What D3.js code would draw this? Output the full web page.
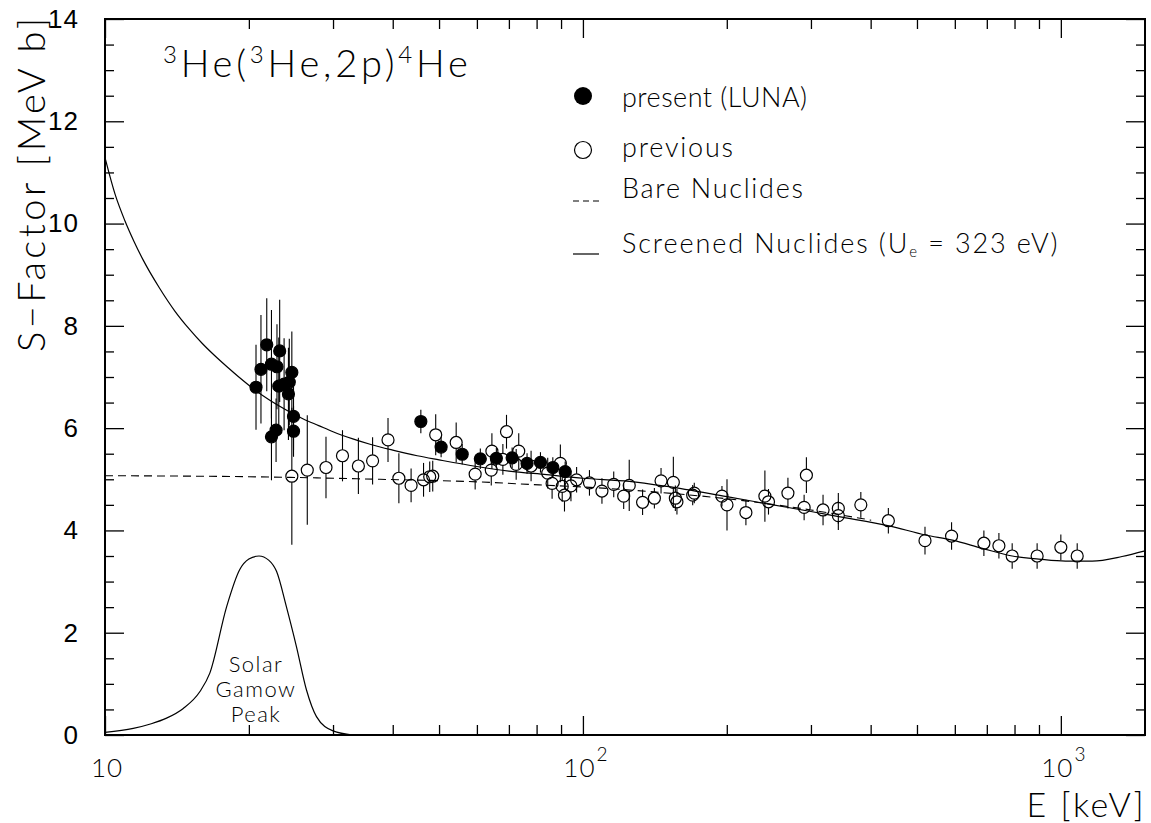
<!DOCTYPE html>
<html>
<head>
<meta charset="utf-8">
<script src="https://cdn.jsdelivr.net/npm/d3@7"></script>
<style>
  body { margin: 0; background: #fff; }
  svg { display: block; font-family: "Lato", "Liberation Sans", sans-serif; font-weight: 300; }
  text { fill: #000; }
</style>
</head>
<body>
<div id="chart"></div>
<script>
// S-factor of 3He(3He,2p)4He

// present (LUNA) data
const lunaE   = [20.7, 21.2, 21.8, 23.2, 22.3, 22.9, 24.6, 23.1, 24.3, 24.2, 24.8, 24.8, 22.3, 22.8, 23.7,
                 45.8, 50.5, 55.9, 61.0, 65.9, 71.1, 76.4, 81.5, 86.5, 91.8];
const lunaS   = [6.80, 7.15, 7.63, 7.51, 7.25, 7.20, 7.09, 6.82, 6.90, 6.67, 6.23, 5.94, 5.83, 5.96, 6.86,
                 6.13, 5.63, 5.49, 5.40, 5.41, 5.42, 5.31, 5.33, 5.23, 5.15];
const lunaErr = [0.83, 1.06, 0.91, 1.00, 1.06, 0.83, 0.80, 0.95, 0.85, 0.90, 0.66, 0.50, 0.85, 0.62, 0.90,
                 0.23, 0.20, 0.20, 0.20, 0.20, 0.20, 0.20, 0.20, 0.20, 0.20];

// previous data
const prevE = [24.6, 26.5, 29.0, 31.4, 33.9, 36.3, 39.1, 41.2, 43.7, 46.4, 47.8, 48.5, 49.2, 54.3, 59.5,
               64.5, 64.3, 69.2, 73.4, 68.0, 72.5, 77.9, 84.4, 89.7, 86.2, 90.5, 91.5, 94.4, 97.0, 103.2,
               109.6, 116.0, 121.7, 125.0, 133.3, 141.1, 145.7, 154.6, 156.1, 157.3, 169.7, 171.0, 195.4, 200.2, 219.3,
               240.3, 244.5, 268.5, 293.5, 290.3, 318.0, 342.3, 342.3, 381.5, 435.6, 519.7, 590.7, 690.2, 742, 791,
               892, 1000, 1082];
const prevS = [5.06, 5.18, 5.23, 5.46, 5.26, 5.36, 5.77, 5.02, 4.88, 4.99, 5.05, 5.06, 5.87, 5.72, 5.10,
               5.55, 5.18, 5.93, 5.55, 5.39, 5.29, 5.26, 5.12, 5.31, 4.92, 4.86, 4.69, 4.87, 4.99, 4.93,
               4.77, 4.90, 4.67, 4.88, 4.55, 4.63, 4.97, 4.94, 4.63, 4.56, 4.69, 4.73, 4.67, 4.50, 4.35,
               4.67, 4.56, 4.73, 5.08, 4.45, 4.40, 4.43, 4.29, 4.50, 4.19, 3.80, 3.89, 3.75, 3.70, 3.50,
               3.50, 3.67, 3.50];
const prevErr = [1.34, 1.07, 0.60, 0.50, 0.55, 0.46, 0.43, 0.49, 0.33, 0.33, 0.30, 0.30, 0.40, 0.39, 0.30,
                 0.35, 0.30, 0.33, 0.35, 0.30, 0.30, 0.30, 0.30, 0.37, 0.30, 0.30, 0.32, 0.30, 0.25, 0.25,
                 0.25, 0.25, 0.25, 0.50, 0.25, 0.20, 0.25, 0.50, 0.25, 0.25, 0.20, 0.20, 0.20, 0.50, 0.25,
                 0.50, 0.25, 0.30, 0.35, 0.25, 0.30, 0.30, 0.28, 0.25, 0.25, 0.27, 0.27, 0.25, 0.25, 0.25,
                 0.25, 0.25, 0.25];

// bare nuclides curve (dashed)
const bareE = [10, 20, 37.6, 60, 81, 100, 138, 200, 300, 343, 401];
const bareS = [5.07, 5.05, 5.00, 4.95, 4.89, 4.85, 4.76, 4.62, 4.40, 4.31, 4.20];

// screened nuclides curve (solid)
const scrE = [10, 10.5, 11, 11.5, 12, 13, 14, 15, 16, 17, 18, 19, 20, 22, 24, 26, 28, 30, 33, 36, 40, 45, 50,
              60, 70, 84, 100, 125, 150, 200, 250, 300, 343, 437, 521, 593, 685, 791, 899, 1023, 1163, 1343, 1500];
const scrS = [11.29, 10.57, 10.06, 9.65, 9.30, 8.74, 8.29, 7.94, 7.65, 7.41, 7.20, 7.01, 6.84, 6.56, 6.35, 6.18,
              6.05, 5.93, 5.79, 5.68, 5.57, 5.46, 5.38, 5.25, 5.16, 5.09, 5.02, 4.96, 4.86, 4.66, 4.50, 4.37, 4.27,
              4.09, 3.91, 3.81, 3.65, 3.50, 3.44, 3.40, 3.40, 3.49, 3.60];

// solar Gamow peak
const gamowE = [10, 11.46, 12.5, 13.45, 14.58, 15.8, 16.57, 17.97, 19.13, 20.0, 21.0, 22.0, 22.85, 23.96, 25.15,
                26.4, 27.7, 30.0, 33.0];
const gamowS = [0.05, 0.13, 0.22, 0.33, 0.52, 0.85, 1.21, 2.51, 3.23, 3.44, 3.50, 3.42, 3.20, 2.51, 1.73,
                0.88, 0.36, 0.08, 0.0];

// ticks
const yMajor = [0, 2, 4, 6, 8, 10, 12, 14];
const yMinor = [1, 3, 5, 7, 9, 11, 13, 0.5, 1.5, 2.5, 3.5, 4.5, 5.5, 6.5, 7.5, 8.5, 9.5, 10.5, 11.5, 12.5, 13.5];
const xMajor = [10, 100, 1000];
const xMinor = [20, 30, 40, 50, 60, 70, 80, 90, 200, 300, 400, 500, 600, 700, 800, 900];
const xLabels = [{v: 10, base: "10", exp: ""}, {v: 100, base: "10", exp: "2"}, {v: 1000, base: "10", exp: "3"}];

const W = 1151, H = 823;
const x = d3.scaleLog().domain([10, 1500]).range([105, 1145]);
const y = d3.scaleLinear().domain([0, 14]).range([735, 19]);

const svg = d3.select("#chart").append("svg")
  .attr("width", W).attr("height", H);

const zip = (a, b) => a.map((v, i) => [v, b[i]]);
const line = d3.line().x(d => x(d[0])).y(d => y(d[1])).curve(d3.curveMonotoneX);

// curves
svg.append("path").datum(zip(gamowE, gamowS))
  .attr("d", line).attr("fill", "none").attr("stroke", "#000").attr("stroke-width", 1.2);
svg.append("path").datum(zip(bareE, bareS))
  .attr("d", line).attr("fill", "none").attr("stroke", "#000").attr("stroke-width", 1.1)
  .attr("stroke-dasharray", "8,5");
svg.append("path").datum(zip(scrE, scrS))
  .attr("d", line).attr("fill", "none").attr("stroke", "#000").attr("stroke-width", 1.2);

// data points with error bars
const R = 6;
function drawSet(E, S, Err, filled) {
  const pts = E.map((e, i) => ({e, s: S[i], err: Err[i]}));
  const g = svg.append("g");
  g.selectAll("line.up").data(pts).enter().append("line")
    .attr("x1", d => x(d.e)).attr("x2", d => x(d.e))
    .attr("y1", d => y(d.s + d.err)).attr("y2", d => y(d.s) - R)
    .attr("stroke", "#000").attr("stroke-width", 1.1);
  g.selectAll("line.dn").data(pts).enter().append("line")
    .attr("x1", d => x(d.e)).attr("x2", d => x(d.e))
    .attr("y1", d => y(d.s) + R).attr("y2", d => y(d.s - d.err))
    .attr("stroke", "#000").attr("stroke-width", 1.1);
  g.selectAll("circle").data(pts).enter().append("circle")
    .attr("cx", d => x(d.e)).attr("cy", d => y(d.s)).attr("r", R)
    .attr("fill", filled ? "#000" : "none")
    .attr("stroke", "#000").attr("stroke-width", 1.2);
}
drawSet(prevE, prevS, prevErr, false);
drawSet(lunaE, lunaS, lunaErr, true);

// frame
svg.append("rect")
  .attr("x", 105).attr("y", 19).attr("width", 1040).attr("height", 716)
  .attr("fill", "none").attr("stroke", "#000").attr("stroke-width", 2);

// ticks via axes (inward)
function tickAxis(axisFn, scale, values, size, transform) {
  const ax = axisFn(scale).tickValues(values).tickSize(size).tickFormat("");
  svg.append("g").attr("transform", transform).call(ax)
    .call(g => g.select(".domain").remove())
    .call(g => g.selectAll("line").attr("stroke-width", 1.3));
}
tickAxis(d3.axisLeft, y, yMajor, -19, "translate(105,0)");
tickAxis(d3.axisLeft, y, yMinor, -9, "translate(105,0)");
tickAxis(d3.axisRight, y, yMajor, -19, "translate(1145,0)");
tickAxis(d3.axisRight, y, yMinor, -9, "translate(1145,0)");
tickAxis(d3.axisBottom, x, xMajor, -19, "translate(0,735)");
tickAxis(d3.axisBottom, x, xMinor, -10, "translate(0,735)");
tickAxis(d3.axisTop, x, xMajor, -19, "translate(0,19)");
tickAxis(d3.axisTop, x, xMinor, -10, "translate(0,19)");

// y tick labels
svg.append("g").attr("transform", "translate(105,0)")
  .call(d3.axisLeft(y).tickValues(yMajor).tickSize(0).tickPadding(26).tickFormat(d3.format("d")))
  .call(g => g.select(".domain").remove())
  .call(g => g.selectAll("text").attr("font-size", 26).attr("font-family", null)
    .attr("font-weight", 300).attr("letter-spacing", 1));

// x tick labels with exponent
const xl = svg.append("g").selectAll("text").data(xLabels).enter().append("text")
  .attr("x", d => x(d.v) + (d.exp ? 3 : 2)).attr("y", 777)
  .attr("text-anchor", "middle").attr("font-size", 26).attr("letter-spacing", 1);
xl.append("tspan").text(d => d.base);
xl.append("tspan").text(d => d.exp).attr("font-size", 19).attr("dy", -16).attr("dx", 1);

// axis titles
svg.append("text").attr("x", 1146).attr("y", 817).attr("text-anchor", "end")
  .attr("font-size", 34).attr("letter-spacing", 2.5).text("E [keV]");
svg.append("text").attr("transform", "translate(45,18) rotate(-90)")
  .attr("text-anchor", "end").attr("font-size", 38)
  .attr("textLength", 334).attr("lengthAdjust", "spacing")
  .text("S\u2212Factor [MeV b]");

// reaction label
const title = svg.append("text").attr("x", 163).attr("y", 77).attr("font-size", 38)
  .attr("letter-spacing", 3.8);
title.append("tspan").attr("font-size", 24).attr("dy", -14).text("3");
title.append("tspan").attr("dy", 14).text("He(");
title.append("tspan").attr("font-size", 24).attr("dy", -14).text("3");
title.append("tspan").attr("dy", 14).text("He,2p)");
title.append("tspan").attr("font-size", 24).attr("dy", -14).text("4");
title.append("tspan").attr("dy", 14).text("He");

// legend
const lg = svg.append("g");
lg.append("circle").attr("cx", 583).attr("cy", 96).attr("r", 9).attr("fill", "#000");
lg.append("circle").attr("cx", 583).attr("cy", 150).attr("r", 8.5)
  .attr("fill", "none").attr("stroke", "#000").attr("stroke-width", 1.2);
lg.append("line").attr("x1", 573).attr("x2", 599).attr("y1", 201).attr("y2", 201)
  .attr("stroke", "#000").attr("stroke-width", 1.1).attr("stroke-dasharray", "6,4");
lg.append("line").attr("x1", 573).attr("x2", 599).attr("y1", 254).attr("y2", 254)
  .attr("stroke", "#000").attr("stroke-width", 1.2);
const legTxt = [
  {t: "present (LUNA)", y: 107, w: 185},
  {t: "previous", y: 157, w: 111},
  {t: "Bare Nuclides", y: 198, w: 181}
];
lg.selectAll("text.l").data(legTxt).enter().append("text")
  .attr("x", 622).attr("y", d => d.y).attr("font-size", 27)
  .attr("textLength", d => d.w).attr("lengthAdjust", "spacing")
  .text(d => d.t);
const scr = lg.append("text").attr("x", 622).attr("y", 253).attr("font-size", 27)
  .attr("letter-spacing", 1.9);
scr.append("tspan").text("Screened Nuclides (U");
scr.append("tspan").attr("font-size", 15).attr("dy", 4).text("e");
scr.append("tspan").attr("dy", -4).text(" = 323 eV)");

// Gamow peak label
svg.append("g").selectAll("text").data(["Solar", "Gamow", "Peak"]).enter().append("text")
  .attr("x", 256).attr("y", (d, i) => 672 + i * 25)
  .attr("text-anchor", "middle").attr("font-size", 22).attr("letter-spacing", 1.5).text(d => d);
</script>
</body>
</html>
